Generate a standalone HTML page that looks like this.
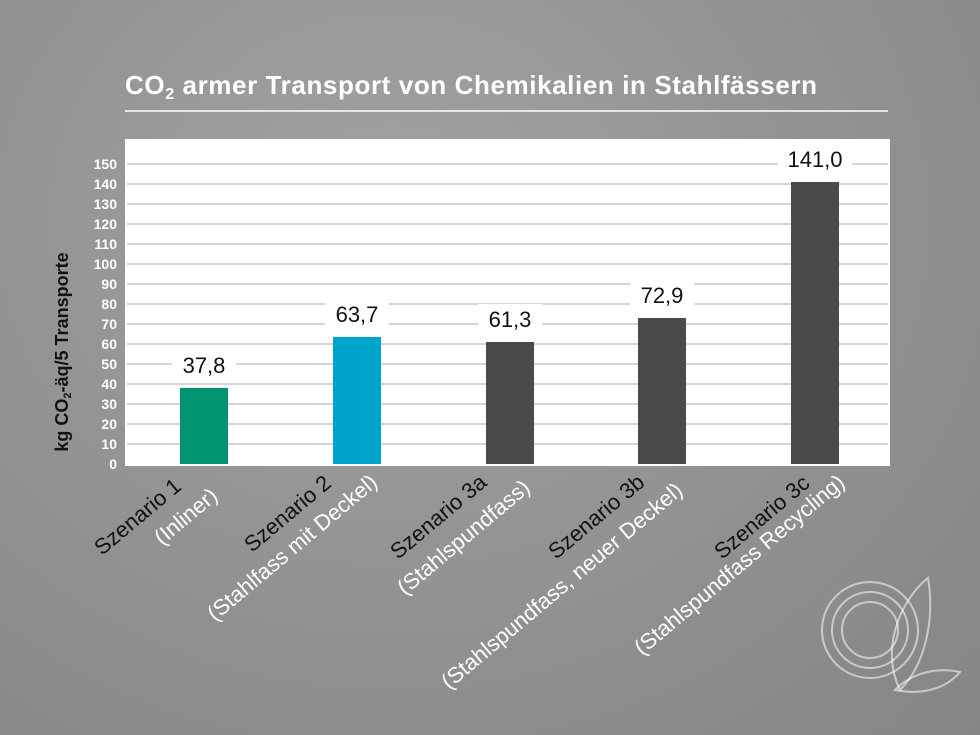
<!DOCTYPE html>
<html><head><meta charset="utf-8"><style>
html,body{margin:0;padding:0}
body{width:980px;height:735px;overflow:hidden;background:radial-gradient(ellipse at 40% 30%,#a3a3a3 0%,#949494 45%,#858585 100%);font-family:"Liberation Sans",sans-serif}
</style></head><body>
<svg width="980" height="735" xmlns="http://www.w3.org/2000/svg" style="position:absolute;left:0;top:0">
<text x="125" y="94" font-family="Liberation Sans, sans-serif" font-weight="bold" font-size="26" letter-spacing="0.6" fill="#fff">CO<tspan font-size="16" dy="5">2</tspan><tspan dy="-5"> armer Transport von Chemikalien in Stahlfässern</tspan></text>
<line x1="125" y1="111" x2="888" y2="111" stroke="#fff" stroke-width="1.5"/>
<rect x="125" y="139" width="765" height="327" fill="#fff"/>
<g stroke="#d4d4d4" stroke-width="2">
<line x1="127" x2="888" y1="164" y2="164"/><line x1="127" x2="888" y1="184" y2="184"/><line x1="127" x2="888" y1="204" y2="204"/><line x1="127" x2="888" y1="224" y2="224"/><line x1="127" x2="888" y1="244" y2="244"/><line x1="127" x2="888" y1="264" y2="264"/><line x1="127" x2="888" y1="284" y2="284"/><line x1="127" x2="888" y1="304" y2="304"/><line x1="127" x2="888" y1="324" y2="324"/><line x1="127" x2="888" y1="344" y2="344"/><line x1="127" x2="888" y1="364" y2="364"/><line x1="127" x2="888" y1="384" y2="384"/><line x1="127" x2="888" y1="404" y2="404"/><line x1="127" x2="888" y1="424" y2="424"/><line x1="127" x2="888" y1="444" y2="444"/>
</g>
<g font-family="Liberation Sans, sans-serif" font-weight="bold" font-size="14" fill="#fff" text-anchor="end">
<text x="117" y="169">150</text><text x="117" y="189">140</text><text x="117" y="209">130</text><text x="117" y="229">120</text><text x="117" y="249">110</text><text x="117" y="269">100</text><text x="117" y="289">90</text><text x="117" y="309">80</text><text x="117" y="329">70</text><text x="117" y="349">60</text><text x="117" y="369">50</text><text x="117" y="389">40</text><text x="117" y="409">30</text><text x="117" y="429">20</text><text x="117" y="449">10</text><text x="117" y="469">0</text>
</g>
<text transform="translate(68,352) rotate(-90)" text-anchor="middle" font-family="Liberation Sans, sans-serif" font-weight="bold" font-size="18" fill="#111">kg CO<tspan font-size="11" dy="3">2</tspan><tspan dy="-3">-äq/5 Transporte</tspan></text>
<rect x="180" y="388" width="48" height="76" fill="#009473"/>
<rect x="333" y="337" width="48" height="127" fill="#00a3c9"/>
<rect x="486" y="342" width="48" height="122" fill="#4a4a4a"/>
<rect x="638" y="318" width="48" height="146" fill="#4a4a4a"/>
<rect x="791" y="182" width="48" height="282" fill="#4a4a4a"/>
<g fill="#fff"><rect x="172" y="350" width="64" height="30"/><rect x="325" y="299" width="64" height="30"/><rect x="478" y="304" width="64" height="30"/><rect x="630" y="280" width="64" height="30"/><rect x="778" y="144" width="74" height="30"/></g>
<g font-family="Liberation Sans, sans-serif" font-size="22" fill="#111" text-anchor="middle">
<text x="204" y="373">37,8</text><text x="357" y="322">63,7</text><text x="510" y="327">61,3</text><text x="662" y="303">72,9</text><text x="815" y="167">141,0</text>
</g>
<g font-family="Liberation Sans, sans-serif" font-size="22">
<text transform="translate(102,556) rotate(-40)" fill="#111">Szenario 1</text>
<text transform="translate(162,546) rotate(-40)" fill="#fff">(Inliner)</text>
<text transform="translate(252,553) rotate(-40)" fill="#111">Szenario 2</text>
<text transform="translate(215,622) rotate(-40)" fill="#fff">(Stahlfass mit Deckel)</text>
<text transform="translate(398,560) rotate(-40)" fill="#111">Szenario 3a</text>
<text transform="translate(405,596) rotate(-40)" fill="#fff">(Stahlspundfass)</text>
<text transform="translate(556,560) rotate(-40)" fill="#111">Szenario 3b</text>
<text transform="translate(449,690) rotate(-40)" fill="#fff">(Stahlspundfass, neuer Deckel)</text>
<text transform="translate(722,560) rotate(-40)" fill="#111">Szenario 3c</text>
<text transform="translate(642,656) rotate(-40)" fill="#fff">(Stahlspundfass Recycling)</text>
</g>
<g fill="none" stroke="#fff" stroke-opacity="0.55" stroke-width="2">
<circle cx="870" cy="630" r="48"/><circle cx="870" cy="630" r="38"/><circle cx="870" cy="630" r="28"/>
<path d="M900 690 C880 650 900 600 928 578 C935 620 925 665 900 690 Z"/>
<path d="M895 690 C915 670 940 668 960 672 C945 690 920 695 895 690 Z"/>
</g>
</svg>
</body></html>
